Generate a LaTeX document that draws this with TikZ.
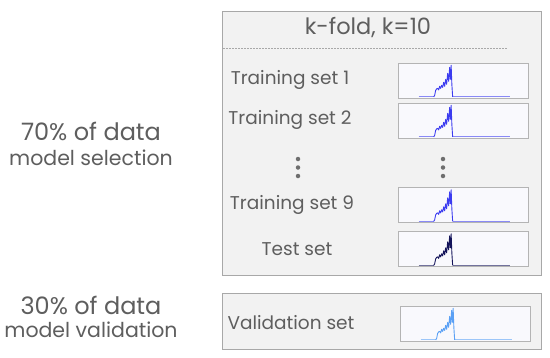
\documentclass[tikz,border=0pt]{standalone}
\usepackage{fontspec}
\setmainfont{Poppins}
\definecolor{txt}{HTML}{5E5E5E}
\definecolor{panelfill}{HTML}{F2F2F2}
\definecolor{panelline}{HTML}{A8A8A8}
\definecolor{minifill}{HTML}{F9F9FD}
\definecolor{miniline}{HTML}{B4B4B4}
\definecolor{trainc}{HTML}{3C3CF0}
\definecolor{testc}{HTML}{14145A}
\definecolor{valc}{HTML}{5AA0F5}
\tikzset{
  panel/.style={draw=panelline, fill=panelfill, line width=1pt, inner sep=0pt},
  mini/.style={draw=miniline, fill=minifill, line width=0.7pt, minimum width=130pt, minimum height=35pt, inner sep=0pt},
  lbl/.style={text=txt, font=\fontsize{18.5}{20}\selectfont},
  side/.style={text=txt, font=\fontsize{24}{26}\selectfont},
  sidesub/.style={text=txt, font=\fontsize{20.5}{22}\selectfont},
  vdot/.style={circle, fill=txt!90, inner sep=0pt, minimum size=4.5pt},
}
\newcommand\miniplot[2]{%
  \begin{scope}[shift={(#1.south west)}, x=1pt, y=1pt]
    \draw[#2!60, line width=0.8pt] (21,1.5) -- (36,1.5);
    \draw[#2!60, line width=0.8pt] (55,1.5) -- (112,1.5);
    \draw[#2, line width=0.9pt, line join=round]
      (36,1.5) -- (37,3) -- (38,8) -- (39,9.5) -- (40,10) -- (41,8.5) -- (42,12) -- (43,10) -- (44,13) -- (45,11) -- (46,16) -- (47,12) -- (48,19) -- (49,14) -- (50,25) -- (51,17) -- (52,31) -- (52.7,19) -- (53.5,33) -- (54.2,14) -- (55,1.5);
  \end{scope}}
\begin{document}
\begin{tikzpicture}[x=1pt,y=-1pt]
\useasboundingbox[fill=white] (0,0) rectangle (550,357);
% panels
\node[panel, minimum width=319pt, minimum height=264.5pt] (main) at (381.5,143.25) {};
\node[panel, minimum width=319pt, minimum height=56pt] (valpanel) at (381.5,321) {};
% title
\node[text=txt, font=\fontsize{22.5}{24}\selectfont] (title) at (368,28) {k-fold, k=10};
\coordinate (dl) at (223,48);
\coordinate (dr) at (507,48);
\draw[panelline, dash pattern=on 2pt off 1pt, line width=0.6pt] (dl) -- (dr);
% rows
\node[lbl] (t1) at (290,80) {Training set 1};
\node[lbl] (t2) at (290,120) {Training set 2};
\node[lbl] (t9) at (292,205) {Training set 9};
\node[lbl] (ts) at (297,249) {Test set};
\node[lbl] (vs) at (291,323) {Validation set};
\node[mini] (p1) at (463,80.5) {};
\node[mini] (p2) at (463,120.5) {};
\node[mini] (p9) at (463,205) {};
\node[mini] (pt) at (463,249) {};
\node[mini] (pv) at (465,323.5) {};
\miniplot{p1}{trainc}
\miniplot{p2}{trainc}
\miniplot{p9}{trainc}
\miniplot{pt}{testc}
\miniplot{pv}{valc}
% vertical dots
\node[vdot] (da1) at (298,159) {};
\node[vdot] (da2) at (298,167.5) {};
\node[vdot] (da3) at (298,176) {};
\node[vdot] (db1) at (443,159) {};
\node[vdot] (db2) at (443,167.5) {};
\node[vdot] (db3) at (443,176) {};
% side labels
\node[side] (s1) at (91,131) {70\% of data};
\node[sidesub] (s2) at (91,158) {model selection};
\node[side] (s3) at (91,305) {30\% of data};
\node[sidesub] (s4) at (91,330) {model validation};
\end{tikzpicture}
\end{document}
